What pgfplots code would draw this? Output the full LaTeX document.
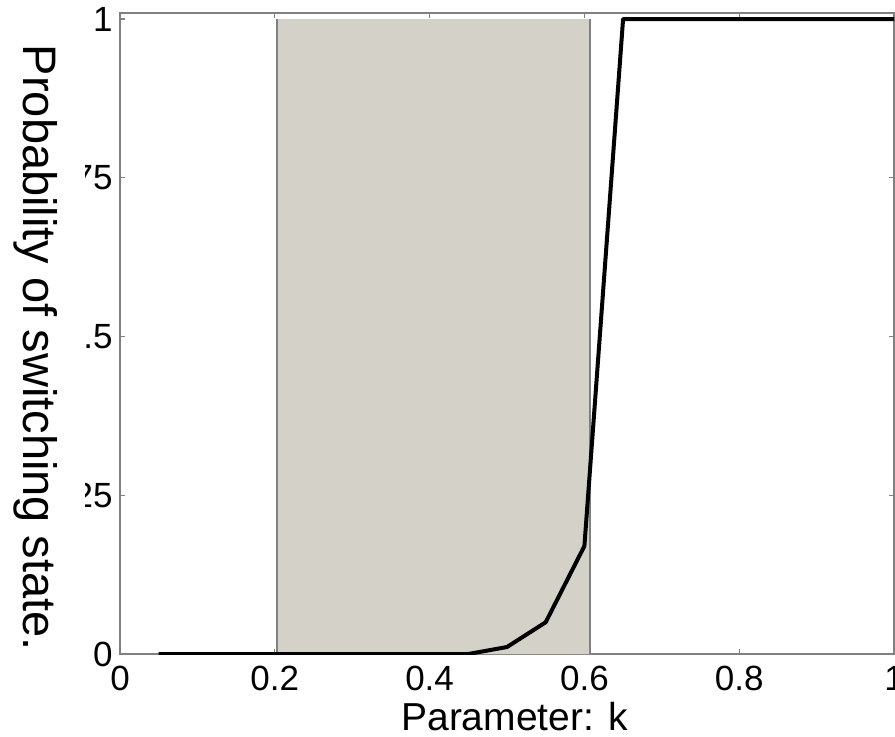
\documentclass[border=0pt]{standalone}
\usepackage{pgfplots}
\pgfplotsset{compat=1.18}
\usepackage{fontspec}
\setmainfont{Liberation Sans}
\definecolor{shade}{RGB}{212,210,200}
\definecolor{axgrey}{RGB}{128,128,128}
\begin{document}
\begin{tikzpicture}
\useasboundingbox (-60pt,-41pt) rectangle (387.5pt,327pt);
\clip (-60pt,-41pt) rectangle (387.5pt,327pt);
\begin{axis}[
  at={(0pt,0pt)}, anchor=south west,
  scale only axis, width=387pt, height=320.5pt,
  xmin=0, xmax=1, ymin=0, ymax=1.00945,
  xtick={0,0.2,0.4,0.6,0.8,1},
  ytick={0,0.25,0.5,0.75,1},
  tick align=inside,
  major tick length=2.5pt,
  axis line style={axgrey, line width=1pt},
  every tick/.style={axgrey, line width=0.6pt},
  tick label style={font=\fontsize{17.5}{20}\selectfont, black},
  /pgf/number format/assume math mode=true,
  xticklabel style={inner sep=0pt, yshift=-6pt},
  yticklabel style={inner sep=0pt, xshift=-3.5pt},
  xlabel={Parameter: k},
  xlabel style={font=\fontsize{19.5}{22}\selectfont, inner sep=0pt, at={(axis description cs:0.51,0)}, anchor=base, yshift=-38pt},
]
\addplot[fill=shade, draw=none] coordinates {(0.203,0) (0.203,1) (0.607,1) (0.607,0)} \closedcycle;
\addplot[axgrey, line width=0.9pt] coordinates {(0.203,0) (0.203,1)};
\addplot[axgrey, line width=0.9pt] coordinates {(0.607,0) (0.607,1)};
\addplot[black, line width=2pt, line join=round] coordinates {
(0.05,0) (0.1,0) (0.15,0) (0.2,0) (0.25,0) (0.3,0) (0.35,0) (0.4,0) (0.45,0)
(0.5,0.011) (0.55,0.05) (0.6,0.17) (0.65,1) (0.7,1) (0.75,1) (0.8,1)
(0.85,1) (0.9,1) (0.95,1) (1.0,1)};
\end{axis}
\fill[white] (-60pt,-41pt) rectangle (-17.5pt,327pt);
\node[rotate=-90, font=\fontsize{23.5}{26}\selectfont, inner sep=0pt] at (-42pt,153pt) {Probability of switching state.};
\end{tikzpicture}
\end{document}
